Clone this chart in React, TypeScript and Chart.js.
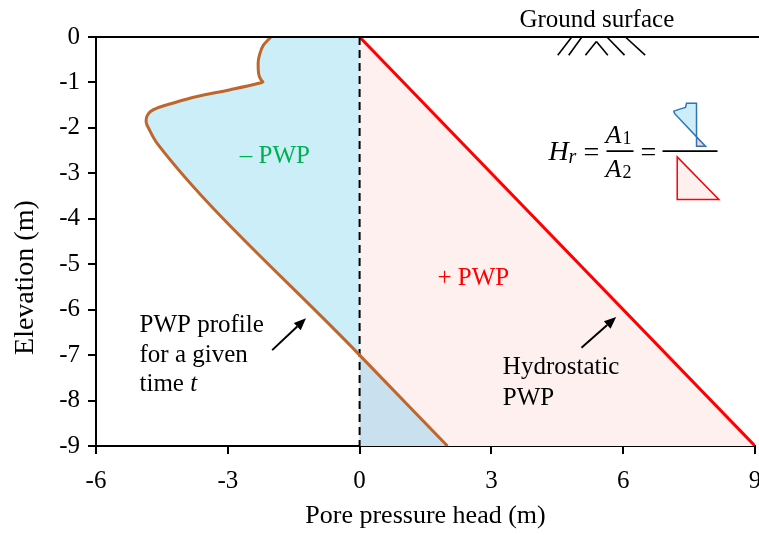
import React, { useEffect, useRef } from "react";
import { Chart, registerables } from "chart.js";

Chart.register(...registerables);

const FONT = '"Liberation Serif", "Times New Roman", serif';

// Axis ticks
const xTicks = [-6, -3, 0, 3, 6, 9];
const yTicks = [0, -1, -2, -3, -4, -5, -6, -7, -8, -9];

// PWP profile for a given time t (pore pressure head x, elevation y)
const profileX = [-2.02, -2.19, -2.28, -2.31, -2.3, -2.24, -2.2, -2.34, -2.94, -3.7, -4.3, -4.6, -4.76, -4.84, -4.86, -4.78, -4.6, 0, 2];
const profileY = [0, -0.18, -0.4, -0.58, -0.8, -0.95, -0.99, -1.03, -1.16, -1.31, -1.47, -1.56, -1.64, -1.74, -1.86, -2.05, -2.35, -7, -9];

// Hydrostatic PWP
const hydroX = [0, 9];
const hydroY = [0, -9];

// Zero pressure reference (dashed)
const zeroX = [0, 0];
const zeroY = [0, -9];

// Text labels (data coordinates)
const labelText = ["– PWP", "+ PWP", "PWP profile", "for a given", "Hydrostatic", "PWP", "Ground surface"];
const labelX = [-1.93, 2.59, -5.01, -5.01, 3.26, 3.26, 5.4];
const labelY = [-2.78, -5.46, -6.49, -7.15, -7.42, -8.1, 0.23];
const labelColor = ["#00B050", "#FF0000", "#000", "#000", "#000", "#000", "#000"];
const labelAlign = ["center", "center", "left", "left", "left", "left", "center"];

// Arrows (tail -> head)
const arrowX1 = [-1.99, 5.05];
const arrowY1 = [-6.89, -6.84];
const arrowX2 = [-1.22, 5.84];
const arrowY2 = [-6.19, -6.16];

// Ground hatch segments
const hatchX1 = [4.51, 4.76, 5.14, 5.39, 5.63, 6.05];
const hatchY1 = [-0.4, -0.4, -0.4, -0.1, 0, 0];
const hatchX2 = [4.83, 5.06, 5.39, 5.65, 6.03, 6.5];
const hatchY2 = [0, 0, -0.1, -0.4, -0.4, -0.4];

// Equation anchor
const eqX = 4.3;
const eqY = -2.71;

const pts = (xs: number[], ys: number[]) => xs.map((x, i) => ({ x, y: ys[i] }));

const annoPlugin = {
  id: "anno",
  afterDraw(chart: any) {
    const { ctx, chartArea, scales } = chart;
    const px = (v: number) => scales.x.getPixelForValue(v);
    const py = (v: number) => scales.y.getPixelForValue(v);
    ctx.save();
    ctx.strokeStyle = "#000";
    ctx.lineWidth = 2;
    // ground line at top
    ctx.beginPath();
    ctx.moveTo(chartArea.left - 1, py(0));
    ctx.lineTo(chart.width, py(0));
    ctx.stroke();
    // hatch
    ctx.lineWidth = 1.6;
    for (let i = 0; i < hatchX1.length; i++) {
      ctx.beginPath();
      ctx.moveTo(px(hatchX1[i]), py(hatchY1[i]));
      ctx.lineTo(px(hatchX2[i]), py(hatchY2[i]));
      ctx.stroke();
    }
    // labels
    ctx.textBaseline = "alphabetic";
    ctx.font = `25px ${FONT}`;
    for (let i = 0; i < labelText.length; i++) {
      ctx.fillStyle = labelColor[i];
      ctx.textAlign = labelAlign[i] as CanvasTextAlign;
      ctx.fillText(labelText[i], px(labelX[i]), py(labelY[i]));
    }
    // "time t"
    ctx.fillStyle = "#000";
    ctx.textAlign = "left";
    const tx = px(-5.01), ty = py(-7.78);
    ctx.font = `25px ${FONT}`;
    ctx.fillText("time ", tx, ty);
    const w = ctx.measureText("time ").width;
    ctx.font = `italic 25px ${FONT}`;
    ctx.fillText("t", tx + w, ty);
    // arrows
    ctx.strokeStyle = "#000";
    ctx.fillStyle = "#000";
    ctx.lineWidth = 2;
    for (let i = 0; i < arrowX1.length; i++) {
      const x1 = px(arrowX1[i]), y1 = py(arrowY1[i]);
      const x2 = px(arrowX2[i]), y2 = py(arrowY2[i]);
      const a = Math.atan2(y2 - y1, x2 - x1);
      const hl = 12, hw = 5;
      const bx = x2 - hl * Math.cos(a), by = y2 - hl * Math.sin(a);
      ctx.beginPath();
      ctx.moveTo(x1, y1);
      ctx.lineTo(bx, by);
      ctx.stroke();
      ctx.beginPath();
      ctx.moveTo(x2, y2);
      ctx.lineTo(bx + hw * Math.sin(a), by - hw * Math.cos(a));
      ctx.lineTo(bx - hw * Math.sin(a), by + hw * Math.cos(a));
      ctx.closePath();
      ctx.fill();
    }
    // equation
    const ax = px(eqX), ay = py(eqY);
    ctx.fillStyle = "#000";
    ctx.textAlign = "left";
    ctx.font = `italic 28px ${FONT}`;
    ctx.fillText("H", ax, ay);
    ctx.font = `italic 20px ${FONT}`;
    ctx.fillText("r", ax + 20, ay + 3);
    ctx.font = `28px ${FONT}`;
    ctx.textAlign = "center";
    ctx.fillText("=", ax + 43, ay + 1);
    ctx.fillText("=", ax + 100, ay + 1);
    ctx.textAlign = "left";
    ctx.font = `italic 26px ${FONT}`;
    ctx.fillText("A", ax + 57, ay - 16.7);
    ctx.fillText("A", ax + 57, ay + 16.5);
    ctx.font = `18px ${FONT}`;
    ctx.fillText("1", ax + 74, ay - 16);
    ctx.fillText("2", ax + 74, ay + 18);
    ctx.lineWidth = 1.8;
    ctx.beginPath();
    ctx.moveTo(ax + 58, ay - 9);
    ctx.lineTo(ax + 85, ay - 9);
    ctx.moveTo(ax + 114, ay - 9);
    ctx.lineTo(ax + 169, ay - 9);
    ctx.stroke();
    // mini icons
    ctx.lineWidth = 1.5;
    ctx.strokeStyle = "#2E75B6";
    ctx.fillStyle = "#CCEEF9";
    ctx.beginPath();
    ctx.moveTo(ax + 138, ay - 57);
    ctx.lineTo(ax + 148, ay - 57);
    ctx.lineTo(ax + 148, ay - 23.3);
    ctx.lineTo(ax + 126, ay - 46.7);
    ctx.lineTo(ax + 125.3, ay - 49);
    ctx.lineTo(ax + 132, ay - 51.3);
    ctx.lineTo(ax + 137, ay - 52.7);
    ctx.closePath();
    ctx.fill();
    ctx.stroke();
    ctx.fillStyle = "#F6D3D6";
    ctx.beginPath();
    ctx.moveTo(ax + 148, ay - 23.3);
    ctx.lineTo(ax + 157, ay - 14);
    ctx.lineTo(ax + 148, ay - 14);
    ctx.closePath();
    ctx.fill();
    ctx.stroke();
    ctx.strokeStyle = "#FF0000";
    ctx.fillStyle = "#FFF0F0";
    ctx.beginPath();
    ctx.moveTo(ax + 128.7, ay - 3.3);
    ctx.lineTo(ax + 128.7, ay + 39.3);
    ctx.lineTo(ax + 170.3, ay + 39.3);
    ctx.closePath();
    ctx.fill();
    ctx.stroke();
    // axis titles
    ctx.fillStyle = "#000";
    ctx.font = `26px ${FONT}`;
    ctx.textAlign = "center";
    ctx.fillText("Pore pressure head (m)", (chartArea.left + chartArea.right) / 2, 523);
    ctx.font = `28px ${FONT}`;
    ctx.translate(33, chartArea.top + 240.6);
    ctx.rotate(-Math.PI / 2);
    ctx.textBaseline = "alphabetic";
    ctx.fillText("Elevation (m)", 0, 0);
    ctx.restore();
  },
};

export default function App() {
  const ref = useRef<HTMLCanvasElement>(null);
  useEffect(() => {
    if (!ref.current) return;
    const tickFont = { family: FONT, size: 25 };
    const chart = new Chart(ref.current, {
      type: "line",
      data: {
        datasets: [
          {
            data: pts(profileX, profileY),
            borderColor: "#C0652B",
            borderWidth: 3,
            fill: false,
            cubicInterpolationMode: "monotone",
            pointRadius: 0,
            order: 1,
          } as any,
          {
            data: pts(zeroX, zeroY),
            borderColor: "#000",
            borderWidth: 2,
            borderDash: [8, 5],
            fill: false,
            pointRadius: 0,
            order: 2,
          },
          {
            data: pts(profileX.slice(-2), profileY.slice(-2)),
            borderWidth: 0,
            borderColor: "rgba(0,0,0,0)",
            backgroundColor: "#C9E0EE",
            fill: { value: 0 },
            pointRadius: 0,
            order: 3,
          },
          {
            data: pts(profileX, profileY),
            borderWidth: 0,
            borderColor: "rgba(0,0,0,0)",
            backgroundColor: "#CCEEF9",
            fill: { value: 0 },
            cubicInterpolationMode: "monotone",
            pointRadius: 0,
            order: 4,
          } as any,
          {
            data: pts(hydroX, hydroY),
            borderColor: "#FF0000",
            borderWidth: 3,
            backgroundColor: "#FFF0F0",
            fill: { value: 0 },
            pointRadius: 0,
            order: 5,
          },
        ],
      },
      options: {
        indexAxis: "y",
        responsive: false,
        devicePixelRatio: 1,
        animation: false,
        events: [],
        layout: { padding: { top: 37, right: 45, left: 0, bottom: 0 } },
        plugins: { legend: { display: false }, tooltip: { enabled: false } },
        scales: {
          x: {
            type: "linear",
            min: -6,
            max: 9,
            afterBuildTicks: (s: any) => {
              s.ticks = xTicks.map((v) => ({ value: v }));
            },
            afterFit: (s: any) => {
              s.height = 89;
            },
            grid: { display: true, drawOnChartArea: false, drawTicks: true, tickLength: 8, color: "#000", lineWidth: 2 },
            border: { display: true, color: "#000", width: 2 },
            ticks: { color: "#000", font: tickFont, padding: 12, maxRotation: 0, autoSkip: false },
          },
          y: {
            type: "linear",
            min: -9,
            max: 0,
            afterBuildTicks: (s: any) => {
              s.ticks = yTicks.map((v) => ({ value: v }));
            },
            afterFit: (s: any) => {
              s.width = 96;
            },
            grid: { display: true, drawOnChartArea: false, drawTicks: true, tickLength: 8, color: "#000", lineWidth: 2 },
            border: { display: true, color: "#000", width: 2 },
            ticks: { color: "#000", font: tickFont, padding: 8, autoSkip: false },
          },
        },
      } as any,
      plugins: [annoPlugin],
    });
    return () => chart.destroy();
  }, []);
  return (
    <div style={{ position: "fixed", left: 0, top: 0, width: 759, height: 535, overflow: "hidden", background: "#fff" }}>
      <canvas ref={ref} width={800} height={535} style={{ width: 800, height: 535, display: "block" }} />
    </div>
  );
}
